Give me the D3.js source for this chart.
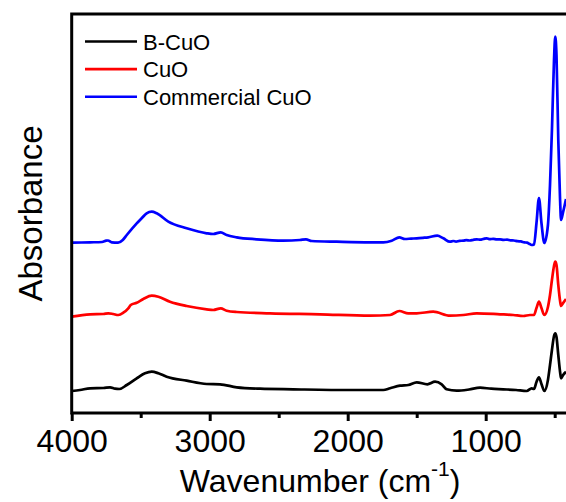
<!DOCTYPE html>
<html>
<head>
<meta charset="utf-8">
<script src="https://cdn.jsdelivr.net/npm/d3@7/dist/d3.min.js"></script>
<style>
  html, body { margin: 0; padding: 0; background: #fff; }
  svg { display: block; font-family: Arial, "Liberation Sans", sans-serif; }
</style>
</head>
<body>
<svg id="chart" width="566" height="502"></svg>
<script>
// FTIR spectra, offset vertically (arbitrary absorbance units), [wavenumber cm-1, absorbance]
const seriesNames = ["B-CuO", "CuO", "Commercial CuO"];
const seriesColors = ["#000000", "#ff0000", "#0000ff"];

const bCuO = [
  [4000, 22], [3940, 23], [3867, 24.7], [3771, 25], [3722, 25.7], [3686, 24.3], [3655, 24],
  [3601, 28], [3529, 34.7], [3469, 39.7], [3420, 41.3], [3372, 39.7], [3312, 36.3],
  [3167, 32.3], [3022, 29], [2925, 28.7], [2804, 25.7], [2635, 24.3], [2394, 23.7],
  [1983, 23], [1742, 23], [1693, 24.7], [1621, 27.3], [1561, 28], [1500, 30.7], [1423, 28.7],
  [1367, 31.3], [1319, 28.7], [1283, 23.7], [1210, 22.3], [1120, 23.5], [1041, 25.3],
  [960, 24.3], [873, 23.7], [780, 23], [703, 22], [667, 24.7], [650, 24], [632, 31],
  [614, 35.7], [596, 29], [575, 22], [549, 33], [534, 48], [520, 63], [505, 77], [496, 79.7],
  [487, 76], [474, 58], [461, 41], [454, 34.7], [439, 38], [418, 41.3]
];

const cuo = [
  [4000, 96.3], [3867, 98.7], [3771, 99], [3735, 99.7], [3699, 99], [3662, 98], [3626, 100.3],
  [3590, 104.7], [3572, 108], [3529, 110.3], [3481, 114], [3420, 117.3], [3372, 116.3],
  [3288, 111.3], [3167, 107], [3022, 103.7], [2974, 103], [2920, 104.7], [2877, 102.3],
  [2804, 101], [2563, 99.7], [2201, 98.7], [1838, 97.3], [1693, 98], [1626, 102], [1561, 99.7],
  [1500, 99.7], [1380, 101.3], [1259, 97.3], [1162, 98], [1065, 99.7], [896, 98.7],
  [800, 98], [728, 97], [679, 98], [650, 98], [632, 105], [614, 111.3], [596, 105], [575, 98],
  [549, 106], [534, 118], [520, 133], [505, 147], [496, 151.3], [487, 148], [474, 128],
  [461, 112], [454, 107], [439, 110], [418, 114]
];

const commercialCuO = [
  [4000, 170.3], [3930, 170.5], [3867, 170.7], [3780, 171], [3750, 172.3], [3737, 172.5],
  [3710, 170.7], [3664, 170.3], [3630, 173], [3601, 178], [3529, 189.7], [3493, 194.7],
  [3457, 199.7], [3420, 201.3], [3384, 199.7], [3300, 191.3], [3167, 184.7], [3022, 179.7],
  [2974, 179], [2920, 180.7], [2877, 178], [2804, 175.7], [2659, 173.7], [2467, 172.3],
  [2346, 173], [2302, 173.7], [2261, 172], [2080, 171.3], [1838, 170.7], [1742, 170.7],
  [1681, 172.3], [1626, 175.7], [1585, 174], [1540, 174.4], [1500, 174.7], [1455, 175.2],
  [1416, 175.7], [1351, 177.3], [1307, 174.7], [1259, 171.3], [1235, 172], [1215, 171.4],
  [1190, 172.2], [1162, 172.3], [1140, 172.9], [1115, 172.5], [1090, 173.2], [1065, 173.7],
  [1040, 173.3], [1015, 174.1], [992, 174.7], [970, 173.8], [945, 174.2], [920, 173.6],
  [896, 173.7], [870, 173.1], [845, 173.4], [820, 172.6], [795, 172.5], [770, 171.8],
  [745, 171.6], [720, 170.6], [700, 170.4], [685, 169.3], [667, 168], [650, 168.5],
  [632, 190], [614, 215], [596, 190], [575, 170], [549, 188], [534, 228], [520, 283],
  [505, 353], [496, 376.3], [487, 358], [474, 273], [461, 213], [454, 193], [439, 201],
  [418, 214]
];

const majorTicks = [4000, 3000, 2000, 1000];
const minorTicks = [3500, 2500, 1500, 500];

const allSeries = [bCuO, cuo, commercialCuO];

const svg = d3.select("#chart");
const plotLeft = 71.7, plotRight = 568.5, plotTop = 14, plotBottom = 413;

const x = d3.scaleLinear().domain([4000, 400]).range([plotLeft, plotRight]);
const y = d3.scaleLinear().domain([0, 399]).range([plotBottom, plotTop]);

// spectra
const line = d3.line()
  .x(d => x(d[0]))
  .y(d => y(d[1]))
  .curve(d3.curveMonotoneX);

svg.append("g")
  .selectAll("path")
  .data(allSeries)
  .join("path")
  .attr("d", line)
  .attr("fill", "none")
  .attr("stroke", (d, i) => seriesColors[i])
  .attr("stroke-width", 2.7)
  .attr("stroke-linejoin", "round");

// frame
svg.append("rect")
  .attr("x", plotLeft).attr("y", plotTop)
  .attr("width", plotRight - plotLeft).attr("height", plotBottom - plotTop)
  .attr("fill", "none").attr("stroke", "#000").attr("stroke-width", 3);

// bottom axis: major ticks with labels, minor ticks without
const xAxis = d3.axisBottom(x)
  .tickValues(majorTicks)
  .tickFormat(d3.format("d"))
  .tickSizeInner(8)
  .tickSizeOuter(0)
  .tickPadding(8);

const gx = svg.append("g").attr("transform", `translate(0,${plotBottom})`).call(xAxis);
gx.select(".domain").remove();
gx.selectAll(".tick line").attr("stroke", "#000").attr("stroke-width", 3);
gx.selectAll(".tick text")
  .attr("fill", "#000")
  .style("font-size", "32px")
  .style("font-family", "Arial, 'Liberation Sans', sans-serif");

const xMinor = d3.axisBottom(x).tickValues(minorTicks).tickFormat("").tickSizeInner(5).tickSizeOuter(0);
const gm = svg.append("g").attr("transform", `translate(0,${plotBottom})`).call(xMinor);
gm.select(".domain").remove();
gm.selectAll(".tick line").attr("stroke", "#000").attr("stroke-width", 3);

// axis titles
const xTitle = svg.append("text")
  .attr("x", (plotLeft + plotRight) / 2)
  .attr("y", 492)
  .attr("text-anchor", "middle")
  .style("font-size", "32px")
  .attr("fill", "#000");
xTitle.append("tspan").text("Wavenumber (cm");
xTitle.append("tspan").attr("dy", -16).style("font-size", "21px").text("-1");
xTitle.append("tspan").attr("dy", 16).text(")");

svg.append("text")
  .attr("transform", `translate(42,${(plotTop + plotBottom) / 2}) rotate(-90)`)
  .attr("text-anchor", "middle")
  .style("font-size", "33px")
  .attr("fill", "#000")
  .text("Absorbance");

// legend
const legend = svg.append("g")
  .selectAll("g")
  .data(seriesNames)
  .join("g")
  .attr("transform", (d, i) => `translate(85,${41.5 + i * 27.6})`);

legend.append("line")
  .attr("x1", 0).attr("x2", 52).attr("y1", 0).attr("y2", 0)
  .attr("stroke", (d, i) => seriesColors[i])
  .attr("stroke-width", 2.6);

legend.append("text")
  .attr("x", 58)
  .attr("y", 8)
  .style("font-size", "22px")
  .attr("fill", "#000")
  .text(d => d);
</script>
</body>
</html>
